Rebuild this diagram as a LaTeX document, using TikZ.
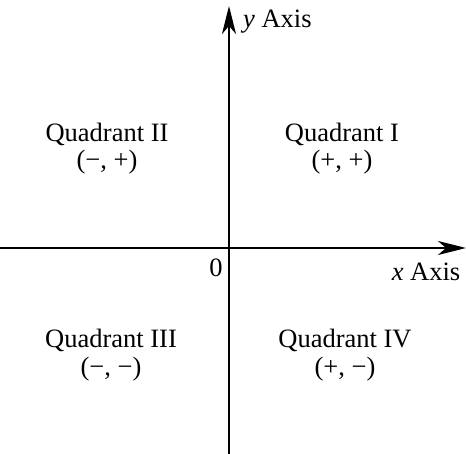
\documentclass[tikz,border=0pt]{standalone}
\usepackage{fontspec}
\setmainfont{Liberation Serif}
\usetikzlibrary{arrows.meta}
\begin{document}
\begin{tikzpicture}[x=1pt,y=-1pt,
  axis/.style={line width=2.6pt,-{Stealth[length=28pt,width=14pt,inset=8pt]}},
  lbl/.style={font=\fontsize{26.5}{31}\selectfont,inner sep=0pt,align=center}]
\useasboundingbox (0,0) rectangle (466,454);
\coordinate (xs) at (0,248);
\coordinate (xe) at (466,248);
\coordinate (ys) at (229,454);
\coordinate (ye) at (229,6);
\draw[axis] (xs) -- (xe);
\draw[axis] (ys) -- (ye);
\node[lbl,anchor=west] (ylab) at (243,22) {\textit{y} Axis};
\node[lbl] (xlab) at (426,272) {\textit{x} Axis};
\node[lbl] (o) at (216,268) {0};
\node[lbl] (q1) at (342,134) {Quadrant I};
\node[lbl] (s1) at (342,162) {(+, +)};
\node[lbl] (q2) at (107,134) {Quadrant II};
\node[lbl] (s2) at (107,162) {(−, +)};
\node[lbl] (q3) at (111,340) {Quadrant III};
\node[lbl] (s3) at (111,369) {(−, −)};
\node[lbl] (q4) at (345,340) {Quadrant IV};
\node[lbl] (s4) at (345,369) {(+, −)};
\end{tikzpicture}
\end{document}
